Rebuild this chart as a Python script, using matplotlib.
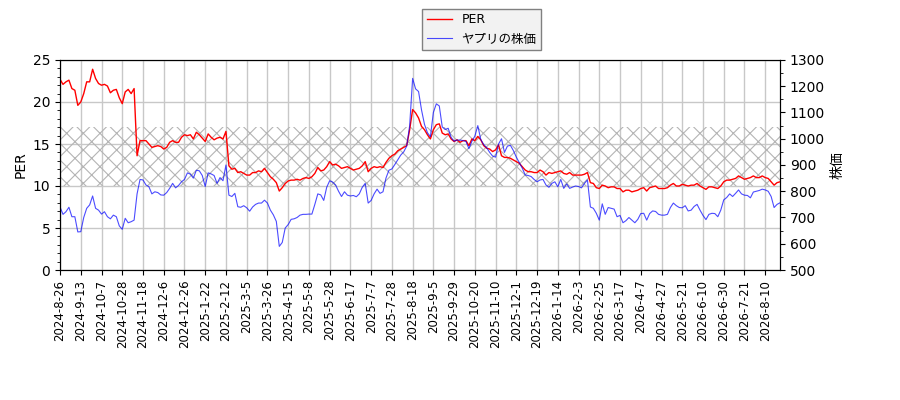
import numpy as np
import matplotlib
matplotlib.use("Agg")
import matplotlib.pyplot as plt

plt.rcParams['font.family'] = ['DejaVu Sans', 'Noto Sans CJK JP']
plt.rcParams['hatch.linewidth'] = 0.8

tick_labels = ["2024-8-26", "2024-9-13", "2024-10-7", "2024-10-28", "2024-11-18", "2024-12-6",
               "2024-12-26", "2025-1-22", "2025-2-12", "2025-3-5", "2025-3-26", "2025-4-15",
               "2025-5-8", "2025-5-28", "2025-6-17", "2025-7-7", "2025-7-28", "2025-8-18",
               "2025-9-5", "2025-9-29", "2025-10-20", "2025-11-10", "2025-12-1", "2025-12-19",
               "2026-1-14", "2026-2-3", "2026-2-25", "2026-3-17", "2026-4-7", "2026-4-27",
               "2026-5-21", "2026-6-10", "2026-6-30", "2026-7-21", "2026-8-10"]

# PER, sampled every 2 trading days
per = [22.7, 22.1, 22.4, 22.6, 21.6, 21.4, 19.6, 20.0, 21.0, 22.4, 22.4, 23.9, 22.8, 22.2,
       22.0, 22.1, 21.9, 21.1, 21.4, 21.5, 20.5, 19.8, 21.2, 21.5, 21.0, 21.6, 13.6, 15.4,
       15.4, 15.4, 15.0, 14.6, 14.7, 14.8, 14.7, 14.4, 14.6, 15.2, 15.4, 15.2, 15.2,
       15.8, 16.1, 16.0, 16.1, 15.6, 16.4, 16.1, 15.7, 15.3, 16.2,
       15.8, 15.5, 15.7, 15.8, 15.6, 16.5, 12.4, 12.0, 12.1, 11.6,
       11.7, 11.5, 11.3, 11.3, 11.6, 11.6, 11.8, 11.7, 12.1, 11.6,
       11.1, 10.8, 10.4, 9.4, 9.8, 10.3, 10.6, 10.7, 10.7, 10.8, 10.7,
       10.9, 11.0, 10.9, 11.1, 11.5, 12.2, 11.8, 11.9, 12.3, 12.9,
       12.5, 12.6, 12.4, 12.1, 12.2, 12.3, 12.1, 11.9, 12.0, 12.1,
       12.4, 12.9, 11.7, 12.1, 12.3, 12.2, 12.3, 12.2, 12.8, 13.3,
       13.6, 13.8, 14.2, 14.4, 14.6, 14.8, 16.7, 19.1, 18.7, 18.1,
       17.1, 16.7, 16.1, 15.6, 16.7, 17.3, 17.4, 16.3, 16.1, 16.2,
       15.6, 15.3, 15.5, 15.2, 15.4, 15.4, 14.8, 15.6, 15.4, 15.9,
       15.5, 14.8, 14.5, 14.4, 14.1, 14.3, 14.9, 13.6, 13.4, 13.4,
       13.3, 13.1, 12.9, 12.7, 12.3, 11.9, 11.7, 11.7, 11.6, 11.6,
       11.9, 11.7, 11.3, 11.6, 11.5, 11.6, 11.7, 11.8, 11.5, 11.4,
       11.6, 11.3, 11.3, 11.3, 11.3, 11.4, 11.6, 10.4, 10.3, 9.8,
       9.7, 10.1, 10.0, 9.8, 9.9, 9.9, 9.7, 9.7, 9.3, 9.5,
       9.5, 9.3, 9.4, 9.5, 9.7, 9.8, 9.4, 9.8, 9.9, 10.0, 9.7,
       9.7, 9.7, 9.8, 10.1, 10.3, 10.0, 10.0, 10.2, 10.1, 10.0,
       10.1, 10.1, 10.3, 10.0, 9.8, 9.6, 9.9, 9.9, 9.8, 9.7,
       10.0, 10.5, 10.7, 10.7, 10.8, 10.9, 11.2, 11.0, 10.8, 10.9,
       11.0, 11.2, 11.0, 11.0, 11.2, 11.0, 10.9, 10.5, 10.1, 10.4, 10.5]

# Share price (yen), sampled every 2 trading days
price = [740, 712, 722, 739, 703, 703, 645, 646, 700, 735,
         748, 782, 735, 728, 713, 722, 703, 695, 709, 703,
         668, 655, 697, 680, 684, 690, 790, 845, 843, 824,
         817, 790, 798, 795, 786, 785, 795, 811, 830, 813, 822,
         836, 845, 870, 865, 850, 880, 878, 860, 818, 870,
         866, 860, 830, 852, 840, 900, 785, 780, 792, 741,
         739, 745, 737, 724, 740, 750, 755, 755, 766, 755,
         728, 710, 685, 590, 605, 660, 673, 693, 695, 700, 709,
         712, 712, 713, 713, 750, 790, 786, 765, 815, 840,
         835, 824, 800, 780, 798, 785, 782, 784, 779, 790,
         815, 830, 755, 765, 790, 808, 792, 798, 850, 880,
         885, 902, 920, 938, 950, 972, 1050, 1230, 1190, 1180,
         1110, 1055, 1023, 1008, 1100, 1133, 1125, 1045, 1035, 1040,
         1005, 991, 995, 995, 993, 990, 962, 990, 1010, 1050,
         997, 978, 966, 948, 934, 930, 980, 1000, 948, 972,
         975, 955, 930, 909, 888, 862, 860, 856, 845, 836,
         843, 845, 824, 815, 830, 836, 817, 845, 811, 828,
         811, 816, 820, 818, 813, 830, 843, 740, 735, 716,
         690, 752, 712, 738, 735, 732, 703, 708, 680, 688,
         700, 690, 680, 693, 715, 716, 690, 715, 725, 723, 712,
         709, 709, 712, 738, 755, 745, 738, 737, 745, 725,
         728, 742, 750, 728, 708, 692, 712, 716, 715, 703,
         728, 767, 776, 790, 780, 792, 805, 790, 785, 784,
         775, 797, 800, 803, 808, 805, 800, 780, 738, 750, 756]

band_low, band_high = 10, 17
step = 2
tick_every = 14

x = np.arange(len(per)) * step
xmax = x[-1]

fig = plt.figure(figsize=(9, 4), dpi=100)
ax = fig.add_axes([0.0667, 0.325, 0.8, 0.525])
ax2 = ax.twinx()

ax.fill_between([0, xmax], band_low, band_high, facecolor='none', edgecolor='#b4b4b4',
                hatch='xx', linewidth=0, zorder=1)
l1, = ax.plot(x, per, color='red', lw=1.0, zorder=3, label='PER')
l2, = ax2.plot(x, price, color='blue', lw=0.8, alpha=0.7, label='ヤプリの株価')

ax.set_xlim(0, xmax)
ax.set_ylim(0, 25)
ax2.set_ylim(500, 1300)
ax.set_yticks(np.arange(0, 26, 5))
ax.set_yticks(np.arange(0, 26, 1), minor=True)
ax2.set_yticks(np.arange(500, 1301, 100))
ax2.set_yticks(np.arange(500, 1301, 50), minor=True)
ax.set_xticks(np.arange(len(tick_labels)) * tick_every)
ax.set_xticklabels(tick_labels, rotation=90, fontsize=8.5)
ax.grid(True, color='#c8c8c8', lw=1)
ax.set_axisbelow(True)
ax.set_ylabel('PER')
ax2.set_ylabel('株価')

leg = fig.legend(handles=[l1, l2], loc='upper center', bbox_to_anchor=(0.535, 0.993),
                 fancybox=False, edgecolor='#808080', facecolor='#f2f2f2', framealpha=1,
                 fontsize=9, borderpad=0.35)

fig.savefig('out.png', dpi=100)
